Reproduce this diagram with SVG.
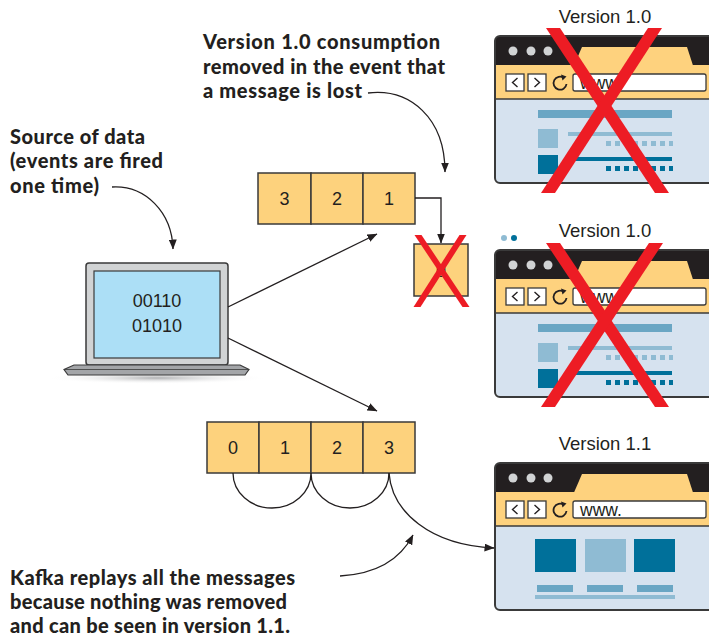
<svg xmlns="http://www.w3.org/2000/svg" xmlns:xlink="http://www.w3.org/1999/xlink" width="709" height="636" viewBox="0 0 709 636">
<style>
.note{font-family:Lato,"Open Sans",sans-serif;font-weight:900;font-size:20px;fill:#231f20}
.lbl{font-family:"Liberation Sans",Arial,sans-serif;font-size:18.5px;fill:#231f20;text-anchor:middle}
.num{font-family:"Liberation Sans",Arial,sans-serif;font-size:18px;fill:#231f20;text-anchor:middle}
.url{font-family:"Liberation Sans",Arial,sans-serif;font-size:17.5px;fill:#231f20}
.cell{fill:#fdd27d;stroke:#3a3a3a;stroke-width:1.5}
.conn{fill:none;stroke:#231f20;stroke-width:1.3}
.red{fill:#ed1c24}
.mid{fill:#6aa6c4}
.lt{fill:#8fbbd3}
.dk{fill:#00709a}
</style>
<defs>
<marker id="ah" viewBox="0 0 10 8" refX="9.5" refY="4" markerWidth="10" markerHeight="8" markerUnits="userSpaceOnUse" orient="auto">
<path d="M0,0 L10,4 L0,8 Z" fill="#231f20"/>
</marker>
<radialGradient id="shadow" cx="0.5" cy="0.5" r="0.5">
<stop offset="0" stop-color="#b0b1b3"/>
<stop offset="1" stop-color="#ffffff" stop-opacity="0"/>
</radialGradient>
<g id="chrome">
<rect x="0" y="0" width="232" height="147" rx="5" fill="#d6e2ef"/>
<path d="M0,29 V5 Q0,0 5,0 H232 V29 Z" fill="#231f20"/>
<rect x="0" y="29" width="232" height="34" fill="#fed27e"/>
<polygon points="79,29.5 87,11 192,11 198,29.5" fill="#fed27e"/>
<line x1="0" y1="63" x2="232" y2="63" stroke="#3a3a3a" stroke-width="1.5"/>
<circle cx="18" cy="15" r="4.5" fill="#d1d3d4"/>
<circle cx="36" cy="15" r="4.5" fill="#d1d3d4"/>
<circle cx="53" cy="15" r="4.5" fill="#d1d3d4"/>
<rect x="11" y="38" width="18" height="17" fill="#fff" stroke="#3a3a3a" stroke-width="1.3"/>
<rect x="33" y="38" width="18" height="17" fill="#fff" stroke="#3a3a3a" stroke-width="1.3"/>
<path d="M22.5,42 L17.5,46.5 L22.5,51" fill="none" stroke="#231f20" stroke-width="1.4"/>
<path d="M39.5,42 L44.5,46.5 L39.5,51" fill="none" stroke="#231f20" stroke-width="1.4"/>
<path d="M69,42 A6.5,6.5 0 1 0 71.5,48" fill="none" stroke="#231f20" stroke-width="1.8"/>
<path d="M66,38.5 L71.5,40.5 L67.5,44.5 Z" fill="#231f20"/>
<rect x="78" y="38" width="133" height="17" rx="2" fill="#fff" stroke="#3a3a3a" stroke-width="1.3"/>
<text class="url" x="85" y="53">www.</text>
<rect x="0" y="0" width="232" height="147" rx="5" fill="none" stroke="#3a3a3a" stroke-width="2"/>
</g>
<g id="content10">
<rect class="mid" x="43" y="74" width="134" height="8"/>
<rect class="lt" x="43" y="93" width="20" height="19"/>
<rect class="lt" x="73" y="96" width="104" height="4"/>
<path class="lt" d="M111,105h5v5h-5zM120,105h5v5h-5zM129,105h5v5h-5zM138,105h5v5h-5zM147,105h5v5h-5zM156,105h5v5h-5zM165,105h5v5h-5zM174,105h4v5h-4z"/>
<rect class="dk" x="43" y="119" width="20" height="19"/>
<rect class="dk" x="73" y="121" width="104" height="4"/>
<path class="dk" d="M111,130h5v5h-5zM120,130h5v5h-5zM129,130h5v5h-5zM138,130h5v5h-5zM147,130h5v5h-5zM156,130h5v5h-5zM165,130h5v5h-5zM174,130h4v5h-4z"/>
</g>
</defs>
<rect x="0" y="0" width="709" height="636" fill="#ffffff"/>

<g id="source-note">
<text class="note" x="10" y="144" textLength="135">Source of data</text>
<text class="note" x="10" y="168" textLength="153">(events are fired</text>
<text class="note" x="10" y="193" textLength="89">one time)</text>
</g>

<g id="lost-note">
<text class="note" x="203" y="49" textLength="237">Version 1.0 consumption</text>
<text class="note" x="203" y="74" textLength="242">removed in the event that</text>
<text class="note" x="203" y="98" textLength="159">a message is lost</text>
</g>

<g id="kafka-note">
<text class="note" x="10" y="585" textLength="285">Kafka replays all the messages</text>
<text class="note" x="10" y="609" textLength="277">because nothing was removed</text>
<text class="note" x="10" y="633" textLength="280">and can be seen in version 1.1.</text>
</g>

<g id="laptop">
<ellipse cx="157" cy="378" rx="110" ry="6" fill="url(#shadow)"/>
<rect x="86" y="263" width="142" height="102" rx="3" fill="#d1d3d4" stroke="#3a3a3a" stroke-width="1.5"/>
<rect x="94" y="271" width="126" height="87" fill="#acdff6" stroke="#3a3a3a" stroke-width="1.2"/>
<polygon points="74,365 240,365 249,369.5 245,375 68,375 64,369.5" fill="#a3a5a8" stroke="#3a3a3a" stroke-width="1.2"/>
<line x1="64" y1="369.5" x2="249" y2="369.5" stroke="#3a3a3a" stroke-width="0.8"/>
<text class="num" x="157" y="307" font-size="18.5">00110</text>
<text class="num" x="157" y="332" font-size="18.5">01010</text>
</g>

<g id="queue-top">
<rect class="cell" x="258" y="173" width="53" height="51"/>
<rect class="cell" x="311" y="173" width="52" height="51"/>
<rect class="cell" x="363" y="173" width="52" height="51"/>
<text class="num" x="284.5" y="205">3</text>
<text class="num" x="337" y="205">2</text>
<text class="num" x="389" y="205">1</text>
</g>

<g id="lost-message">
<rect class="cell" x="414" y="244" width="54" height="52"/>
<text class="num" x="441" y="277">0</text>
<polygon class="red" points="414.5,235 421.5,235 469.5,307 462.5,307"/>
<polygon class="red" points="459.5,235 466.5,235 420.5,307 413.5,307"/>
</g>

<g id="queue-bottom">
<rect class="cell" x="207" y="422" width="52" height="51"/>
<rect class="cell" x="259" y="422" width="52" height="51"/>
<rect class="cell" x="311" y="422" width="52" height="51"/>
<rect class="cell" x="363" y="422" width="52" height="51"/>
<text class="num" x="233" y="454">0</text>
<text class="num" x="285" y="454">1</text>
<text class="num" x="337" y="454">2</text>
<text class="num" x="389" y="454">3</text>
</g>

<g id="browser-top">
<text class="lbl" x="605" y="23">Version 1.0</text>
<use xlink:href="#chrome" x="495" y="36"/>
<use xlink:href="#content10" x="495" y="36"/>
<polygon class="red" points="546,28 560,28 669,193 655,193"/>
<polygon class="red" points="648,28 662,28 555,193 541,193"/>
</g>

<g id="browser-middle">
<circle cx="504" cy="238" r="3" fill="#8fbbd3"/>
<circle cx="514" cy="238" r="3" fill="#00709a"/>
<text class="lbl" x="605" y="237">Version 1.0</text>
<use xlink:href="#chrome" x="495" y="250"/>
<use xlink:href="#content10" x="495" y="250"/>
<polygon class="red" points="546,243 560,243 669,407 655,407"/>
<polygon class="red" points="649,243 663,243 555,407 541,407"/>
</g>

<g id="browser-bottom">
<text class="lbl" x="605" y="450">Version 1.1</text>
<use xlink:href="#chrome" x="495" y="463"/>
<rect class="dk" x="535" y="539" width="41" height="33"/>
<rect class="lt" x="585" y="539" width="41" height="33"/>
<rect class="dk" x="634" y="539" width="41" height="33"/>
<rect class="mid" x="537" y="585" width="36" height="7"/>
<rect class="mid" x="587" y="585" width="36" height="7"/>
<rect class="mid" x="637" y="585" width="36" height="7"/>
<rect class="lt" x="535" y="595" width="140" height="4"/>
</g>

<g id="connectors">
<path class="conn" d="M112,187 C145,185 172,212 173,249" marker-end="url(#ah)"/>
<path class="conn" d="M368,93 C410,88 445,118 445,172" marker-end="url(#ah)"/>
<path class="conn" d="M228,307 L377,234" marker-end="url(#ah)"/>
<path class="conn" d="M228,338 L377,411" marker-end="url(#ah)"/>
<path class="conn" d="M415,198 H441 V243" marker-end="url(#ah)"/>
<path class="conn" d="M233,473 A39,35 0 0 0 311,473 A39,35 0 0 0 389,473"/>
<path class="conn" d="M389,473 C392,512 430,545 494,548" marker-end="url(#ah)"/>
<path class="conn" d="M340,576 C375,574 400,560 413,535" marker-end="url(#ah)"/>
</g>
</svg>
